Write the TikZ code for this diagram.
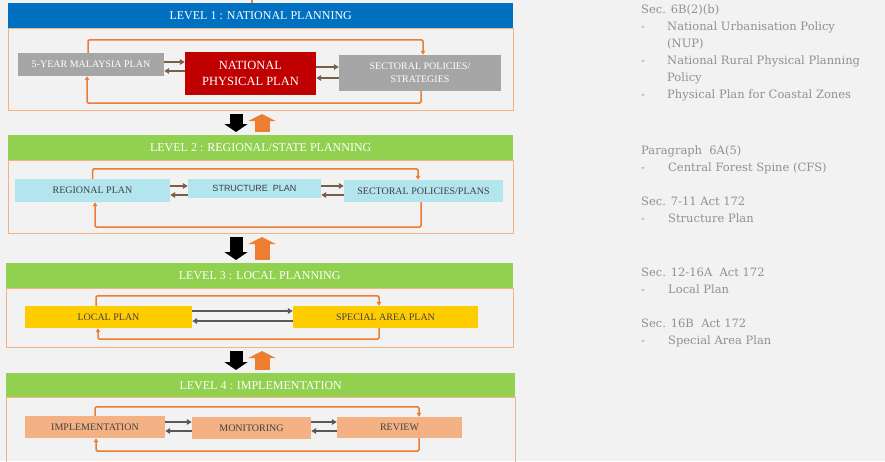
\documentclass[tikz,border=0pt]{standalone}
\usepackage{fontspec}
\setmainfont{Liberation Serif}
\newfontfamily\notefont{DejaVu Serif}
\newfontfamily\plainsans{Liberation Sans}
\usetikzlibrary{arrows.meta}
\definecolor{bggray}{RGB}{242,242,242}
\definecolor{lvlblue}{RGB}{0,112,192}
\definecolor{lvlgreen}{RGB}{146,208,80}
\definecolor{loopor}{RGB}{237,125,49}
\definecolor{bodyor}{RGB}{244,177,131}
\definecolor{plangray}{RGB}{166,166,166}
\definecolor{npred}{RGB}{192,0,0}
\definecolor{plancyan}{RGB}{178,229,238}
\definecolor{planyellow}{RGB}{255,204,0}
\definecolor{plansalmon}{RGB}{244,177,131}
\definecolor{linkbrown}{RGB}{120,96,70}
\definecolor{linkgray}{RGB}{89,89,89}
\definecolor{notegray}{RGB}{145,145,145}
\definecolor{textdark}{RGB}{64,64,64}
\tikzset{
  hdr/.style={
    rectangle,
    anchor=north west,
    minimum height=25pt,
    inner sep=0pt,
    text=white,
    font=\fontsize{12}{14}\selectfont
  },
  body/.style={
    rectangle,
    anchor=north west,
    inner sep=0pt,
    draw=bodyor,
    line width=1pt
  },
  plan/.style={
    rectangle,
    inner sep=0pt,
    align=center,
    text=textdark,
    font=\fontsize{10}{13}\selectfont
  },
  loop/.style={loopor, line width=1.5pt, rounded corners=1.5pt,
    -{Triangle[length=4pt,width=4.5pt]}},
  link/.style={line width=1.7pt, -{Triangle[length=5pt,width=5.5pt]}},
  godown/.style={black, line width=13pt, shorten <=3pt, shorten >=3pt,
    -{Triangle[length=8pt,width=23pt]}},
  goup/.style={loopor, line width=15pt, shorten <=3pt, shorten >=3pt,
    -{Triangle[length=7pt,width=27pt]}},
  note/.style={
    anchor=north west,
    inner sep=0pt,
    align=left,
    text=notegray,
    font=\notefont\fontsize{11.5}{17}\selectfont
  }
}

\begin{document}
\begin{tikzpicture}[x=1pt,y=-1pt]
  \useasboundingbox (0,0) rectangle (885,461);
  \fill[bggray] (0,0) rectangle (885,461);
  \clip (0,0) rectangle (885,461);

  % level 1
  \node[body, minimum width=505pt, minimum height=82pt] (b1) at (8,28) {};
  \node[hdr, fill=lvlblue, minimum width=505pt] (h1) at (8,3) {LEVEL 1 : NATIONAL PLANNING};
  \coordinate (feed) at (252,-4);
  \draw[loopor, line width=1.5pt] (feed) -- (feed |- h1.north);

  \node[plan, fill=plangray, text=white, minimum width=146pt, minimum height=23pt] (fyp) at (91,64.5) {5-YEAR MALAYSIA PLAN};
  \node[plan, fill=npred, text=white, minimum width=131pt, minimum height=43pt,
    font=\fontsize{12.5}{16}\selectfont] (npp) at (250.5,73.5) {NATIONAL\\PHYSICAL PLAN};
  \node[plan, fill=plangray, text=white, minimum width=162pt, minimum height=36pt] (secpol) at (420,73) {SECTORAL POLICIES/\\STRATEGIES};

  \draw[link, linkbrown] (fyp.east |- 0,62) -- (npp.west |- 0,62);
  \draw[link, linkbrown] (npp.west |- 0,71) -- (fyp.east |- 0,71);
  \draw[link, linkbrown] (npp.east |- 0,67) -- (secpol.west |- 0,67);
  \draw[link, linkbrown] (secpol.west |- 0,78) -- (npp.east |- 0,78);
  \draw[loop] ([xshift=-3pt]fyp.north) -- ++(0,-13) -| ([xshift=3pt]secpol.north);
  \draw[loop] ([xshift=1pt]secpol.south) -- ++(0,12) -| ([xshift=-4pt]fyp.south);

  % level 2
  \node[body, minimum width=505pt, minimum height=73pt] (b2) at (8,160) {};
  \node[hdr, fill=lvlgreen, minimum width=505pt] (h2) at (8,135) {LEVEL 2 : REGIONAL/STATE PLANNING};

  \node[plan, fill=plancyan, minimum width=155pt, minimum height=23pt] (rgp) at (92.5,190.5) {REGIONAL PLAN};
  \node[plan, fill=plancyan, minimum width=133pt, minimum height=19pt,
    font=\plainsans\fontsize{9}{11}\selectfont] (stp) at (254.5,188.5) {STRUCTURE~~PLAN};
  \node[plan, fill=plancyan, minimum width=159pt, minimum height=22pt] (secplan) at (423.5,191) {SECTORAL POLICIES/PLANS};

  \draw[link, linkbrown] (rgp.east |- 0,186) -- (stp.west |- 0,186);
  \draw[link, linkbrown] (stp.west |- 0,195) -- (rgp.east |- 0,195);
  \draw[link, linkbrown] (stp.east |- 0,186) -- (secplan.west |- 0,186);
  \draw[link, linkbrown] (secplan.west |- 0,195) -- (stp.east |- 0,195);
  \draw[loop] (rgp.north) -- ++(0,-10) -| ([xshift=-5.5pt]secplan.north);
  \draw[loop] ([xshift=-2.5pt]secplan.south) -- ++(0,25) -| ([xshift=2.5pt]rgp.south);

  % level 3
  \node[body, minimum width=507pt, minimum height=59pt] (b3) at (6,288) {};
  \node[hdr, fill=lvlgreen, minimum width=507pt] (h3) at (6,263) {LEVEL 3 : LOCAL PLANNING};

  \node[plan, fill=planyellow, minimum width=167pt, minimum height=22pt] (lcp) at (108.5,317) {LOCAL PLAN};
  \node[plan, fill=planyellow, minimum width=185pt, minimum height=22pt] (sap) at (385.5,317) {SPECIAL AREA PLAN};

  \draw[link, linkgray] (lcp.east |- 0,311) -- (sap.west |- 0,311);
  \draw[link, linkgray] (sap.west |- 0,321) -- (lcp.east |- 0,321);
  \draw[loop] ([xshift=-12.5pt]lcp.north) -- ++(0,-10) -| ([xshift=-6.5pt]sap.north);
  \draw[loop] ([xshift=-6.5pt]sap.south) -- ++(0,11) -| ([xshift=-10.5pt]lcp.south);

  % level 4
  \node[body, minimum width=509pt, minimum height=80pt] (b4) at (6,397) {};
  \node[hdr, fill=lvlgreen, minimum width=509pt, minimum height=24pt] (h4) at (6,373) {LEVEL 4 : IMPLEMENTATION};

  \node[plan, fill=plansalmon, minimum width=140pt, minimum height=22pt] (impl) at (95,427) {IMPLEMENTATION};
  \node[plan, fill=plansalmon, minimum width=119pt, minimum height=22pt] (mon) at (251.5,428) {MONITORING};
  \node[plan, fill=plansalmon, minimum width=125pt, minimum height=21pt] (rev) at (399.5,427.5) {REVIEW};

  \draw[link, linkgray] (impl.east |- 0,422) -- (mon.west |- 0,422);
  \draw[link, linkgray] (mon.west |- 0,431) -- (impl.east |- 0,431);
  \draw[link, linkgray] (mon.east |- 0,422) -- (rev.west |- 0,422);
  \draw[link, linkgray] (rev.west |- 0,431) -- (mon.east |- 0,431);
  \draw[loop] (impl.north) -- ++(0,-9) -| ([xshift=19.5pt]rev.north);
  \draw[loop] ([xshift=19.5pt]rev.south) -- ++(0,13) -| ([xshift=1pt]impl.south);

  % between levels
  \draw[godown] (b1.south -| 236,0) -- (h2.north -| 236,0);
  \draw[goup] (h2.north -| 262,0) -- (b1.south -| 262,0);
  \draw[godown] (b2.south -| 236,0) -- (h3.north -| 236,0);
  \draw[goup] (h3.north -| 262,0) -- (b2.south -| 262,0);
  \draw[godown] (b3.south -| 236,0) -- (h4.north -| 236,0);
  \draw[goup] (h4.north -| 262,0) -- (b3.south -| 262,0);

  % acts
  \node[note] (act1) at (641,5) {Sec. 6B(2)(b)\\
    \makebox[26pt][l]{-}National Urbanisation Policy\\
    \hspace*{26pt}(NUP)\\
    \makebox[26pt][l]{-}National Rural Physical Planning\\
    \hspace*{26pt}Policy\\
    \makebox[26pt][l]{-}Physical Plan for Coastal Zones};
  \node[note] (act2) at (641,146) {Paragraph~~6A(5)\\
    \makebox[27pt][l]{-}Central Forest Spine (CFS)};
  \node[note] (act3) at (641,197) {Sec. 7-11 Act 172\\
    \makebox[27pt][l]{-}Structure Plan};
  \node[note] (act4) at (641,268) {Sec. 12-16A~~Act 172\\
    \makebox[27pt][l]{-}Local Plan};
  \node[note] (act5) at (641,319) {Sec. 16B~~Act 172\\
    \makebox[27pt][l]{-}Special Area Plan};
\end{tikzpicture}
\end{document}
